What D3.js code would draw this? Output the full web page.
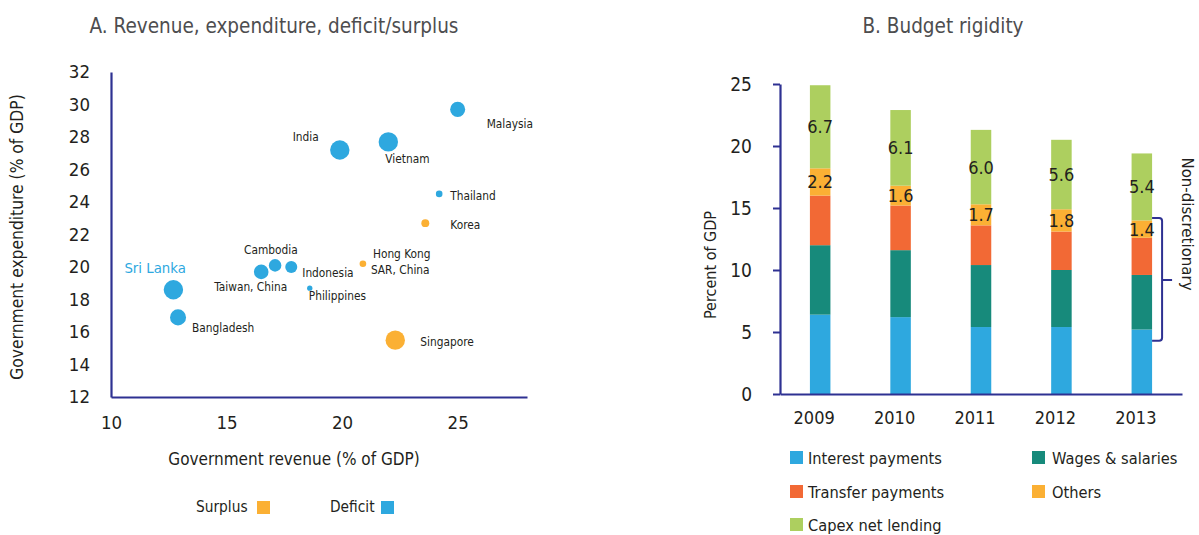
<!DOCTYPE html>
<html><head><meta charset="utf-8">
<script src="https://cdn.jsdelivr.net/npm/d3@7"></script>
<style>
body{margin:0;background:#fff}
text{font-family:"DejaVu Sans Condensed","Liberation Sans Narrow",sans-serif;fill:#231F20}
</style>
</head><body>
<svg id="c" width="1199" height="535"></svg>
<script>
// ---------- Panel A data ----------
const countries = ["Malaysia","India","Vietnam","Thailand","Korea","Hong Kong SAR, China","Cambodia","Indonesia","Taiwan, China","Philippines","Sri Lanka","Bangladesh","Singapore"];
const revenue = [25.0,19.9,22.0,24.2,23.6,20.9,17.1,17.8,16.5,18.6,12.7,12.9,22.3];
const expenditure = [29.7,27.2,27.7,24.5,22.7,20.2,20.1,20.0,19.7,18.7,18.6,16.9,15.5];
const balance = [-3.6,-6.0,-6.0,-0.7,1.0,0.7,-2.5,-2.3,-3.4,-0.45,-6.0,-4.1,6.0]; // + surplus, - deficit
const xTicksA = [10,15,20,25];
const yTicksA = [12,14,16,18,20,22,24,26,28,30,32];

// ---------- Panel B data ----------
const years = ["2009","2010","2011","2012","2013"];
const interest = [6.4,6.2,5.4,5.4,5.2];
const wages = [5.6,5.4,5.0,4.6,4.4];
const transfer = [4.0,3.6,3.2,3.1,3.0];
const others = [2.2,1.6,1.7,1.8,1.4];
const capex = [6.7,6.1,6.0,5.6,5.4];
const seriesNames = ["Interest payments","Wages & salaries","Transfer payments","Others","Capex net lending"];
const yTicksB = [0,5,10,15,20,25];

// ---------- styles ----------
const BLUE="#2EA8DF", ORANGE="#FBB034", RED="#F26935", TEAL="#178A7B", GREEN="#ADCF5F", NAVY="#2E3192";
const seriesColors=[BLUE,TEAL,RED,ORANGE,GREEN];

const svg=d3.select("#c");

// ================= Panel A =================
const xA=d3.scaleLinear().domain([10,28]).range([111,527]);
const yA=d3.scaleLinear().domain([12,32]).range([397,72]);
const rA=d3.scaleSqrt().domain([0,6]).range([0,9.7]);

svg.append("text").attr("x",274).attr("y",33).attr("text-anchor","middle")
  .style("font-size","20.5px").style("fill","#4D4D4F").text("A. Revenue, expenditure, deficit/surplus");

const gA=svg.append("g");
const axA_x=gA.append("g").attr("transform","translate(0,397)")
  .call(d3.axisBottom(xA).tickValues(xTicksA).tickSize(0).tickPadding(19));
const axA_y=gA.append("g").attr("transform","translate(111,0)")
  .call(d3.axisLeft(yA).tickValues(yTicksA).tickSize(0).tickPadding(21));
[axA_x,axA_y].forEach(a=>{a.select(".domain").attr("stroke",NAVY).attr("stroke-width",2.2);
  a.selectAll("text").style("font-size","18.5px").style("fill","#231F20").style("font-family",null);});

svg.append("text").attr("x",294).attr("y",465).attr("text-anchor","middle")
  .style("font-size","17px").text("Government revenue (% of GDP)");
svg.append("text").attr("transform","translate(23,237) rotate(-90)").attr("text-anchor","middle")
  .style("font-size","17.3px").text("Government expenditure (% of GDP)");

const pts=countries.map((c,i)=>({c,x:revenue[i],y:expenditure[i],b:balance[i]}));
gA.selectAll("circle").data(pts).enter().append("circle")
  .attr("cx",d=>xA(d.x)).attr("cy",d=>yA(d.y)).attr("r",d=>rA(Math.abs(d.b)))
  .attr("fill",d=>d.b>0?ORANGE:BLUE);

// label placement (pixel offsets from the point)
const labelOff={
  "Malaysia":[29,14,"start"],"India":[-21,-13,"end"],"Vietnam":[-3,17,"start"],
  "Thailand":[11,2,"start"],"Korea":[25,2,"start"],"Cambodia":[-31,-16,"start"],
  "Indonesia":[11,6,"start"],"Taiwan, China":[-47,15,"start"],"Philippines":[-1,8,"start"],
  "Sri Lanka":[-49,-22,"start"],"Bangladesh":[14,10,"start"],"Singapore":[25,2,"start"]
};
const LFS="11.8px";
pts.forEach(d=>{
  const px=xA(d.x), py=yA(d.y);
  if(d.c==="Hong Kong SAR, China"){
    const t=gA.append("text").style("font-size",LFS);
    t.append("tspan").attr("x",px+10).attr("y",py-10).attr("dy","0.35em").text("Hong Kong");
    t.append("tspan").attr("x",px+8).attr("y",py+6.5).attr("dy","0.35em").text("SAR, China");
    return;
  }
  const o=labelOff[d.c];
  const t=gA.append("text").attr("x",px+o[0]).attr("y",py+o[1]).attr("dy","0.35em")
    .attr("text-anchor",o[2]).style("font-size",LFS).text(d.c);
  if(d.c==="Sri Lanka") t.style("font-size","14.8px").style("fill",BLUE);
});

// legend A
const legA=[["Surplus",ORANGE,196,257],["Deficit",BLUE,330,381]];
legA.forEach(l=>{
  svg.append("text").attr("x",l[2]).attr("y",507).attr("dy","0.35em").style("font-size","15.3px").text(l[0]);
  svg.append("rect").attr("x",l[3]).attr("y",501).attr("width",13).attr("height",13).attr("fill",l[1]);
});

// ================= Panel B =================
svg.append("text").attr("x",943).attr("y",33).attr("text-anchor","middle")
  .style("font-size","20.5px").style("fill","#4D4D4F").text("B. Budget rigidity");

const xB=d3.scaleBand().domain(years).range([780,1182]).paddingInner(0.745).paddingOuter(0.372);
const yB=d3.scaleLinear().domain([0,25]).range([394,84]);

const table=years.map((y,i)=>({year:y,"Interest payments":interest[i],"Wages & salaries":wages[i],
  "Transfer payments":transfer[i],"Others":others[i],"Capex net lending":capex[i]}));
const stack=d3.stack().keys(seriesNames)(table);

const gB=svg.append("g");
stack.forEach((s,k)=>{
  gB.selectAll(null).data(s).enter().append("rect")
    .attr("x",d=>xB(d.data.year)).attr("width",xB.bandwidth())
    .attr("y",d=>yB(d[1])).attr("height",d=>yB(d[0])-yB(d[1]))
    .attr("fill",seriesColors[k]);
});
// value labels on Others and Capex
[3,4].forEach(k=>{
  gB.selectAll(null).data(stack[k]).enter().append("text")
    .attr("x",d=>xB(d.data.year)+xB.bandwidth()/2).attr("y",d=>(yB(d[0])+yB(d[1]))/2)
    .attr("dy","0.36em").attr("text-anchor","middle").style("font-size","18px")
    .text(d=>d3.format(".1f")(d[1]-d[0]));
});

const axB_y=gB.append("g").attr("transform","translate(780,0)")
  .call(d3.axisLeft(yB).tickValues(yTicksB).tickSize(7).tickSizeOuter(0).tickPadding(21));
axB_y.select(".domain").attr("stroke",NAVY).attr("stroke-width",2.2);
axB_y.selectAll(".tick line").attr("stroke",NAVY).attr("stroke-width",2);
axB_y.selectAll("text").style("font-size","19px").style("fill","#231F20").style("font-family",null);

const axB_x=gB.append("g").attr("transform","translate(0,394)")
  .call(d3.axisBottom(xB).tickSize(0).tickPadding(17));
axB_x.select(".domain").attr("stroke",NAVY).attr("stroke-width",2.2);
axB_x.selectAll("text").style("font-size","18px").style("fill","#231F20").style("font-family",null).attr("dx",-6);

svg.append("text").attr("transform","translate(716,265) rotate(-90)").attr("text-anchor","middle")
  .style("font-size","16px").text("Percent of GDP");

// Non-discretionary bracket
const bx0=xB("2013")+xB.bandwidth(), bxv=bx0+10, yT=yB(14.2), yBt=yB(4.3), yM=yB(9.2);
gB.append("path").attr("fill","none").attr("stroke",NAVY).attr("stroke-width",2)
  .attr("d",`M${bx0},${yT} L${bxv-3},${yT} Q${bxv},${yT} ${bxv},${yT+3} L${bxv},${yBt-3} Q${bxv},${yBt} ${bxv-3},${yBt} L${bx0},${yBt} M${bxv},${yM} L${bxv+10},${yM}`);
svg.append("text").attr("transform","translate(1188,224) rotate(90)").attr("text-anchor","middle")
  .attr("dy","0.35em").style("font-size","16.7px").text("Non-discretionary");

// legend B
const legPos=[[790,458],[1032,458],[790,492],[1032,492],[790,525]];
seriesNames.forEach((n,i)=>{
  svg.append("rect").attr("x",legPos[i][0]).attr("y",legPos[i][1]-7).attr("width",13).attr("height",13).attr("fill",seriesColors[i]);
  svg.append("text").attr("x",legPos[i][0]+(i%2?20:18)).attr("y",legPos[i][1]).attr("dy","0.35em")
    .style("font-size","16.3px").text(n);
});
</script>
</body></html>
